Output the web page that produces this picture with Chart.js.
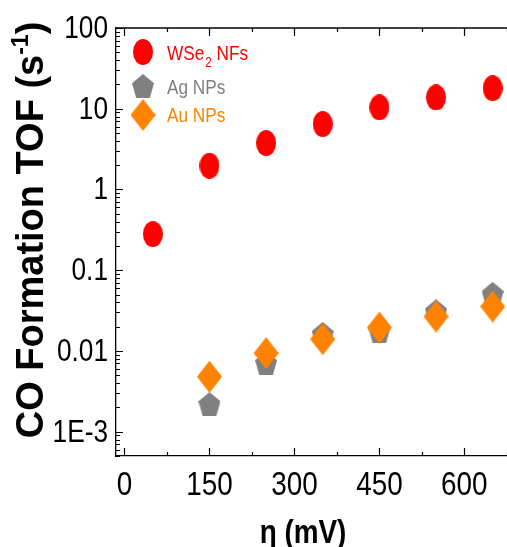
<!DOCTYPE html>
<html>
<head>
<meta charset="utf-8">
<script src="https://cdn.jsdelivr.net/npm/chart.js@4"></script>
<style>
  html, body { margin: 0; padding: 0; background: #fff; overflow: hidden; }
  #wrap { width: 540px; height: 547px; }
</style>
</head>
<body>
<div id="wrap"><canvas id="tofChart"></canvas></div>
<script>
// data
const wseX = [50, 150, 250, 350, 450, 550, 650];
const wseTof = [0.28, 1.97, 3.76, 6.46, 10.4, 13.8, 18.0];
const npX = [150, 250, 350, 450, 550, 650];
const agTof = [0.0022, 0.0071, 0.0163, 0.0178, 0.031, 0.051];
const auTof = [0.0048, 0.0094, 0.014, 0.0195, 0.0267, 0.0355];

const xTicks = [0, 150, 300, 450, 600];
const xTickLabels = ['0', '150', '300', '450', '600'];
const yTicks = [1e-3, 0.01, 0.1, 1, 10, 100];
const yTickLabels = ['1E-3', '0.01', '0.1', '1', '10', '100'];

const RED = '#ff0000', GRAY = '#808080', ORANGE = '#ff8200';
const SANS = "'Liberation Sans', Arial, sans-serif";
const NARROW = 0.82; // squeeze Liberation Sans to look like Arial Narrow

// marker shapes drawn on small canvases
function makeMarker(w, h, color, shape) {
    const c = document.createElement('canvas');
    c.width = w; c.height = h;
    const g = c.getContext('2d');
    g.fillStyle = color;
    g.beginPath();
    if (shape == 'ellipse') {
        g.ellipse(w / 2, h / 2, w / 2, h / 2, 0, 0, 2 * Math.PI);
    } else if (shape == 'diamond') {
        g.moveTo(w / 2, 0); g.lineTo(w, h / 2); g.lineTo(w / 2, h); g.lineTo(0, h / 2);
    } else {
        // pentagon, point up, stretched into the box
        for (let k = 0; k < 5; k++) {
            const a = -Math.PI / 2 + k * 2 * Math.PI / 5;
            const px = (Math.cos(a) / 0.951 + 1) / 2 * w;
            const py = (Math.sin(a) + 1) / 1.809 * h;
            k == 0 ? g.moveTo(px, py) : g.lineTo(px, py);
        }
    }
    g.closePath();
    g.fill();
    return c;
}

const dotRed = makeMarker(20, 26, RED, 'ellipse');
const pentGray = makeMarker(22, 24, GRAY, 'pentagon');
const diaOrange = makeMarker(25, 32, ORANGE, 'diamond');

const toPoints = (xs, ys) => xs.map((x, i) => ({x: x, y: ys[i]}));

// draw squeezed text, returns the width used
function narrowText(ctx, txt, x, y, font, align) {
    ctx.save();
    ctx.font = font;
    ctx.textAlign = align || 'left';
    ctx.translate(x, y);
    ctx.scale(NARROW, 1);
    ctx.fillText(txt, 0, 0);
    const w = ctx.measureText(txt).width * NARROW;
    ctx.restore();
    return w;
}

// ticks pointing inward, plus the top frame line
const framePlugin = {
    id: 'frame',
    afterDraw(chart) {
        const {ctx, chartArea: a, scales} = chart;
        const xs = scales.x, ys = scales.y;
        ctx.save();
        ctx.strokeStyle = '#000';
        ctx.lineWidth = 1.3;
        ctx.beginPath();
        ctx.moveTo(a.left, a.top); ctx.lineTo(a.right, a.top);
        ctx.stroke();
        ctx.lineWidth = 1.2;
        ctx.beginPath();
        for (let v = 0; v <= 700; v += 75) {
            const px = Math.round(xs.getPixelForValue(v)) + 0.5;
            const len = (v % 150 == 0) ? 8 : 4;
            ctx.moveTo(px, a.bottom); ctx.lineTo(px, a.bottom - len);
            ctx.moveTo(px, a.top); ctx.lineTo(px, a.top + len);
        }
        for (let e = -4; e <= 2; e++) {
            for (let m = 1; m <= 9; m++) {
                const v = m * Math.pow(10, e);
                if (v < ys.min || v > ys.max) continue;
                const py = Math.round(ys.getPixelForValue(v)) + 0.5;
                const len = (m == 1) ? 7 : 4;
                ctx.moveTo(a.left, py); ctx.lineTo(a.left + len, py);
            }
        }
        ctx.stroke();

        // tick labels, placed with the scales
        ctx.fillStyle = '#000';
        ctx.textBaseline = 'alphabetic';
        ys.ticks.forEach((t, i) => {
            narrowText(ctx, yTickLabels[i], a.left - 8, ys.getPixelForValue(t.value) + 10, '32px ' + SANS, 'right');
        });
        xs.ticks.forEach((t, i) => {
            narrowText(ctx, xTickLabels[i], xs.getPixelForValue(t.value), 495, '34px ' + SANS, 'center');
        });
        ctx.restore();
    }
};

// axis titles and legend with sub/superscripts
const textPlugin = {
    id: 'texts',
    afterDraw(chart) {
        const ctx = chart.ctx;
        ctx.save();
        ctx.textBaseline = 'alphabetic';
        ctx.textAlign = 'left';
        ctx.fillStyle = '#000';

        // y title
        const big = 'bold 38px ' + SANS;
        const sup = 'bold 23px ' + SANS;
        ctx.font = big;
        const part1 = 'CO Formation TOF (s', part3 = ')';
        const w1 = ctx.measureText(part1).width, w3 = ctx.measureText(part3).width;
        ctx.font = sup;
        const w2 = ctx.measureText('-1').width;
        const total = w1 + w2 + w3;
        ctx.translate(43, 230);
        ctx.rotate(-Math.PI / 2);
        let x = -total / 2;
        ctx.font = big; ctx.fillText(part1, x, 0); x += w1;
        ctx.font = sup; ctx.fillText('-1', x, -15); x += w2;
        ctx.font = big; ctx.fillText(part3, x, 0);
        ctx.setTransform(1, 0, 0, 1, 0, 0);

        // x title
        narrowText(ctx, '\u03B7 (mV)', 303, 543, 'bold 34px ' + SANS, 'center');

        // legend
        ctx.drawImage(dotRed, 143 - 10, 52 - 13);
        ctx.drawImage(pentGray, 143 - 11, 86 - 12);
        ctx.drawImage(diaOrange, 143 - 12.5, 115 - 16);
        const lf = '21px ' + SANS, sf = '14px ' + SANS;
        let tx = 167;
        ctx.fillStyle = RED;
        tx += narrowText(ctx, 'WSe', tx, 60, lf) + 1;
        tx += narrowText(ctx, '2', tx, 67, sf);
        narrowText(ctx, ' NFs', tx, 60, lf);
        ctx.fillStyle = GRAY;
        narrowText(ctx, 'Ag NPs', 167, 94, lf);
        ctx.fillStyle = ORANGE;
        narrowText(ctx, 'Au NPs', 167, 122, lf);
        ctx.restore();
    }
};

const chartData = {
    datasets: [{
        label: 'WSe2 NFs',
        data: toPoints(wseX, wseTof),
        pointStyle: dotRed,
        order: 0
    }, {
        label: 'Ag NPs',
        data: toPoints(npX, agTof),
        pointStyle: pentGray,
        order: 2
    }, {
        label: 'Au NPs',
        data: toPoints(npX, auTof),
        pointStyle: diaOrange,
        order: 1
    }]
};

const config = {
    type: 'scatter',
    data: chartData,
    options: {
        responsive: true,
        maintainAspectRatio: false,
        animation: false,
        elements: { point: { radius: 12, hoverRadius: 12 } },
        layout: { padding: { top: 28, right: 19, left: 0, bottom: 0 } },
        plugins: { legend: { display: false }, tooltip: { enabled: false } },
        scales: {
            x: {
                type: 'linear',
                position: 'bottom',
                min: -15,
                max: 700,
                afterBuildTicks: s => { s.ticks = xTicks.map(v => ({value: v})); },
                afterFit: s => { s.height = 91; },
                grid: { display: false },
                border: { display: true, color: '#000', width: 1.3 },
                ticks: { display: false }
            },
            y: {
                type: 'logarithmic',
                min: 5e-4,
                max: 100,
                afterBuildTicks: s => { s.ticks = yTicks.map(v => ({value: v, major: true})); },
                afterFit: s => { s.width = 116; },
                grid: { display: false },
                border: { display: true, color: '#000', width: 1.3 },
                ticks: { display: false }
            }
        }
    },
    plugins: [framePlugin, textPlugin]
};

new Chart(document.getElementById('tofChart'), config);
</script>
</body>
</html>
